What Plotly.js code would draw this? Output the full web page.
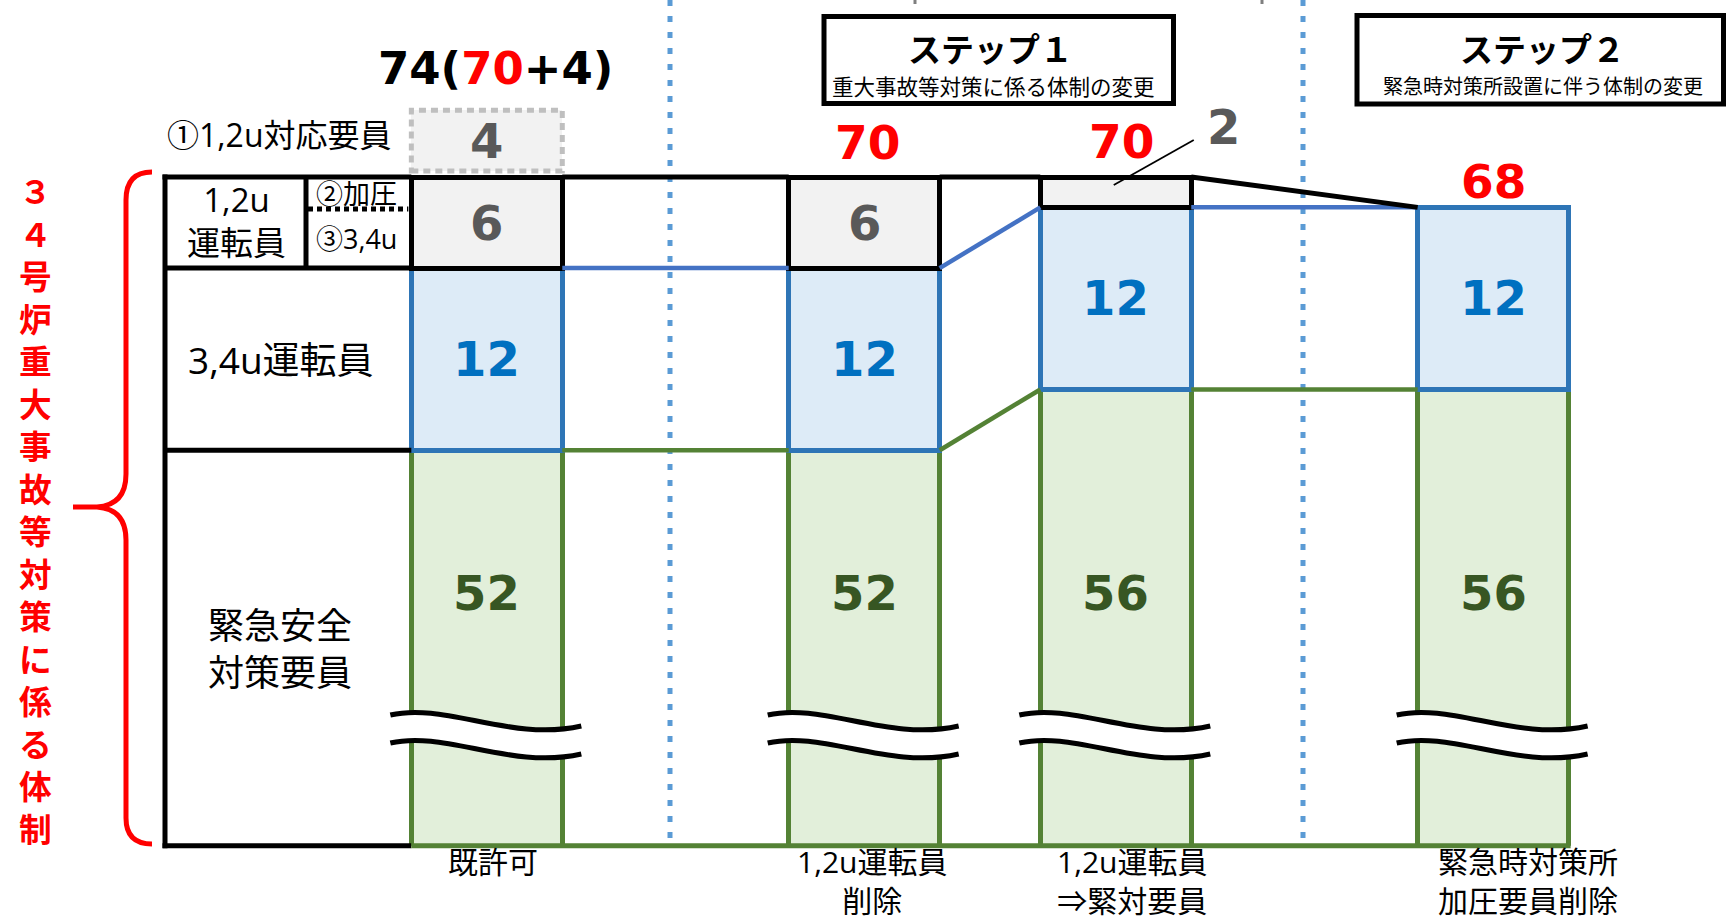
<!DOCTYPE html>
<html>
<head>
<meta charset="utf-8">
<script src="https://cdn.plot.ly/plotly-3.0.1.min.js"></script>
<style>
html, body { margin: 0; padding: 0; background: #ffffff; }
#chart { width: 1726px; height: 923px; }
</style>
</head>
<body>
<div id="chart"></div>
<script>
// ---------------- data ----------------
const categories = ['既許可', '1,2u運転員<br>削除', '1,2u運転員<br>⇒緊対要員', '緊急時対策所<br>加圧要員削除'];
const emergencyStaff  = [52, 52, 56, 56];        // 緊急安全対策要員
const unit34Operators = [12, 12, 12, 12];        // 3,4u運転員
const unit12Operators = [6, 6, 2, null];         // 1,2u運転員（②加圧 / ③3,4u）
const unit12Support   = [4, null, null, null];   // ①1,2u対応要員
const totals          = [70, 70, 70, 68];        // 合計（赤字）

const sideTitle = '３４号炉重大事故等対策に係る体制';
const step1Title = 'ステップ１', step1Sub = '重大事故等対策に係る体制の変更';
const step2Title = 'ステップ２', step2Sub = '緊急時対策所設置に伴う体制の変更';
const rowLabels = {
  support: '①1,2u対応要員',
  unit12: '1,2u<br>運転員',
  press: '②加圧', unit34small: '③3,4u',
  unit34: '3,4u運転員',
  emergency: '緊急安全<br>対策要員'
};

// ---------------- layout geometry ----------------
const W = 1726, H = 923;
const PLOT_BOTTOM = 845.7;
const xr = [-3.870, 9.851];
const yr = [25.95, 81.66];
const yDomain = [1 - PLOT_BOTTOM / H, 1];
const slots = [0, 3, 5, 8];
const BW = 1.2;

const px = v => (v - xr[0]) / (xr[1] - xr[0]) * W;
const py = v => (yr[1] - v) / (yr[1] - yr[0]) * PLOT_BOTTOM;
const fx = p => p / W;
const fy = p => 1 - p / H;
const pp = (x, y) => fx(x).toFixed(5) + ',' + fy(y).toFixed(5);

const SANS = "'Open Sans', 'Noto Sans CJK JP', sans-serif";
const CJK = "'Noto Sans CJK JP', sans-serif";
const NUM = "'DejaVu Sans', sans-serif";
const RED = '#FF0000';

// cumulative tops
const c1 = emergencyStaff.slice();
const c2 = c1.map((v, i) => v + unit34Operators[i]);
const c3 = c2.map((v, i) => v + (unit12Operators[i] || 0));
const supportBase = unit12Support.map((v, i) => v == null ? null : totals[i] + 0.4);

// ---------------- traces ----------------
const common = { type: 'bar', x: slots, width: BW, hoverinfo: 'skip' };
const traces = [
  Object.assign({}, common, { y: emergencyStaff,  marker: { color: '#E2EFDA', line: { color: '#548235', width: 4.5 } } }),
  Object.assign({}, common, { y: unit34Operators, marker: { color: '#DDEBF7', line: { color: '#2E75B6', width: 4.5 } } }),
  Object.assign({}, common, { y: unit12Operators, marker: { color: '#F2F2F2', line: { color: '#000000', width: 5 } } }),
  Object.assign({}, common, { y: unit12Support, base: supportBase, marker: { color: '#F2F2F2', line: { width: 0 } } })
];

// ---------------- shapes ----------------
const shapes = [];
const pline = (x0, y0, x1, y1, color, width, dash) => shapes.push({
  type: 'line', xref: 'paper', yref: 'paper', x0: fx(x0), y0: fy(y0), x1: fx(x1), y1: fy(y1),
  line: { color, width, dash: dash || 'solid' }, layer: 'above'
});
const ppath = (d, color, width, fill) => shapes.push({
  type: 'path', xref: 'paper', yref: 'paper', path: d,
  line: { color: color || 'rgba(0,0,0,0)', width: width || 0 },
  fillcolor: fill || 'rgba(0,0,0,0)', layer: 'above'
});

// phase separators (blue dotted)
[670, 1303].forEach(x => pline(x, 0, x, PLOT_BOTTOM - 2, '#5B9BD5', 5, '6px,10px'));

// small marks at top edge
[915, 1262].forEach(x => pline(x, 0, x, 4, '#7F7F7F', 3));

// step boxes
shapes.push({ type: 'rect', xref: 'paper', yref: 'paper', x0: fx(824), x1: fx(1173.5), y0: fy(16.5), y1: fy(103.5),
  line: { color: '#000', width: 5 }, fillcolor: '#fff', layer: 'above' });
shapes.push({ type: 'rect', xref: 'paper', yref: 'paper', x0: fx(1357), x1: fx(1723.5), y0: fy(15.5), y1: fy(104),
  line: { color: '#000', width: 5 }, fillcolor: '#fff', layer: 'above' });

// table
const bar1Left = px(slots[0] - BW / 2);
const TL = 165;
pline(TL, py(c3[0]) - 2.5, TL, PLOT_BOTTOM + 2.5, '#000', 5);           // left border
pline(162.5, PLOT_BOTTOM, bar1Left, PLOT_BOTTOM, '#000', 5);             // bottom
pline(TL, py(c2[0]), bar1Left, py(c2[0]), '#000', 5);                   // row divider
pline(TL, py(c1[0]), bar1Left, py(c1[0]), '#000', 5);                   // row divider
pline(306, py(c3[0]), 306, py(c2[0]), '#000', 5);                       // column divider
pline(308, 209, bar1Left - 3, 209, '#000', 5, '5px,4px');               // dotted split

// baseline (green) under the bars
pline(bar1Left, PLOT_BOTTOM, px(slots[3] + BW / 2) + 2, PLOT_BOTTOM, '#548235', 5);

// connectors between bars (data coordinates)
const dline = (x0, y0, x1, y1, color, width) => shapes.push({
  type: 'line', xref: 'x', yref: 'y', x0, y0, x1, y1, line: { color, width }, layer: 'above'
});
// table top + black top line
shapes.push({ type: 'line', xref: 'paper', yref: 'y', x0: fx(162.5), x1: fx(bar1Left), y0: c3[0], y1: c3[0],
  line: { color: '#000', width: 5 }, layer: 'above' });
for (let i = 0; i < slots.length - 1; i++) {
  const xa = slots[i] + BW / 2, xb = slots[i + 1] - BW / 2;
  dline(xa, c1[i], xb, c1[i + 1], '#548235', 4.5);
  dline(xa, c2[i], xb, c2[i + 1], '#4472C4', 4.5);
  dline(xa, c3[i], xb, c3[i + 1], '#000000', 5);
}

// dotted outline for ①1,2u対応要員
unit12Support.forEach((v, i) => {
  if (v == null) return;
  shapes.push({ type: 'rect', xref: 'x', yref: 'y', x0: slots[i] - BW / 2, x1: slots[i] + BW / 2,
    y0: supportBase[i], y1: supportBase[i] + v, line: { color: '#BFBFBF', width: 5, dash: '7px,5px' },
    fillcolor: 'rgba(0,0,0,0)', layer: 'above' });
});

// axis-break marks (double waves)
slots.forEach(s => {
  const L = px(s - BW / 2) - 21, R = px(s + BW / 2) + 19;
  const y0 = 715, gap = 28;
  const wave = (dy) => `M ${pp(L, y0 + dy)} C ${pp(L + 55, y0 - 13 + dy)} ${pp(L + 120, y0 + 27 + dy)} ${pp(R, y0 + 11 + dy)}`;
  const fill = `M ${pp(L, y0)} C ${pp(L + 55, y0 - 13)} ${pp(L + 120, y0 + 27)} ${pp(R, y0 + 11)} ` +
               `L ${pp(R, y0 + 11 + gap)} C ${pp(L + 120, y0 + 27 + gap)} ${pp(L + 55, y0 - 13 + gap)} ${pp(L, y0 + gap)} Z`;
  ppath(fill, null, 0, '#ffffff');
  ppath(wave(0), '#000', 5);
  ppath(wave(gap), '#000', 5);
});

// red brace
ppath(`M ${pp(152, 172)} Q ${pp(126, 172)} ${pp(126, 200)} L ${pp(126, 474)} Q ${pp(126, 505)} ${pp(97, 507)} L ${pp(73, 507)} ` +
      `M ${pp(97, 507)} Q ${pp(126, 509)} ${pp(126, 540)} L ${pp(126, 818)} Q ${pp(126, 844)} ${pp(152, 844)}`, RED, 5);

// leader line for the "2" call-out
const s2 = px(slots[2]);
pline(s2 + 78, 140, s2 - 2, 185, '#000', 1.8);

// ---------------- annotations ----------------
const annotations = [];
const pa = (text, x, y, size, color, family, extra) => annotations.push(Object.assign({
  xref: 'paper', yref: 'paper', x: fx(x), y: fy(y), text, showarrow: false,
  xanchor: 'center', yanchor: 'middle', font: { family: family || SANS, size, color: color || '#000' }
}, extra || {}));
const da = (text, x, y, size, color, xshift, yshift) => annotations.push({
  xref: 'x', yref: 'y', x, y, text, showarrow: false, xanchor: 'center', yanchor: 'middle',
  xshift: xshift || 0, yshift: yshift || 0, font: { family: NUM, size, color }
});

// side title (vertical, stacked glyphs in one text block; line pitch 1.3em = 42.5px)
const sideChars = Array.from(sideTitle);
annotations.push({
  xref: 'paper', yref: 'paper', x: fx(35), y: fy(190 + (sideChars.length - 1) * 42.5 / 2),
  text: sideChars.map(ch => '<b>' + ch + '</b>').join('<br>'), showarrow: false,
  xanchor: 'center', yanchor: 'middle',
  font: { family: CJK, size: 32.7, color: RED, weight: 'bold' }
});

// table labels
pa(rowLabels.support, 279.5, 135, 32);
pa(rowLabels.unit12, 236.5, 221.5, 33);
pa(rowLabels.press, 356.5, 193, 27);
pa(rowLabels.unit34small, 356.5, 238, 27);
pa(rowLabels.unit34, 281, 359.5, 37);
pa(rowLabels.emergency, 280, 648.5, 36);

// step boxes text
pa('<b>' + step1Title + '</b>', 990, 48, 33, '#000', CJK);
pa(step1Sub, 993, 85, 21.5, '#000', CJK);
pa('<b>' + step2Title + '</b>', 1542.5, 48, 33, '#000', CJK);
pa(step2Sub, 1543, 85, 20, '#000', CJK);

// category labels under the bars (one block each, line pitch 39px)
const catShift = [6, 8, 16, 35];
categories.forEach((c, i) => {
  const nLines = c.split('<br>').length;
  annotations.push({ xref: 'x', yref: 'paper', x: slots[i], y: fy(861 + (nLines - 1) * 19.5), text: c, showarrow: false,
    xanchor: 'center', yanchor: 'middle', xshift: catShift[i], font: { family: SANS, size: 30, color: '#000' } });
});

// values inside bars
const greenLabelY = 42.6;
slots.forEach((s, i) => {
  da('<b>' + emergencyStaff[i] + '</b>', s, greenLabelY, 48, '#375623');
  da('<b>' + unit34Operators[i] + '</b>', s, c1[i] + unit34Operators[i] / 2, 48, '#0070C0');
  const g = unit12Operators[i];
  if (g != null && g >= 4) da('<b>' + g + '</b>', s, c2[i] + g / 2, 48, '#595959');
  if (unit12Support[i] != null) da('<b>' + unit12Support[i] + '</b>', s, supportBase[i] + unit12Support[i] / 2, 48, '#595959');
});
// small gray segment call-out
pa('<b>' + unit12Operators[2] + '</b>', s2 + 108, 127.5, 48, '#595959', NUM);

// totals
const totalShift = [[8.7, 42], [3.3, 35], [6, 36], [0, 26]];
slots.forEach((s, i) => {
  if (unit12Support[i] != null) {
    const t = '<b>' + (totals[i] + unit12Support[i]) + '(<span style="color:' + RED + '">' + totals[i] + '</span>+' + unit12Support[i] + ')</b>';
    da(t, s, supportBase[i] + unit12Support[i], 45, '#000', totalShift[i][0], totalShift[i][1]);
  } else {
    da('<b>' + totals[i] + '</b>', s, c3[i], 47, RED, totalShift[i][0], totalShift[i][1]);
  }
});

const layout = {
  width: W, height: H,
  margin: { l: 0, r: 0, t: 0, b: 0, pad: 0 },
  paper_bgcolor: '#ffffff', plot_bgcolor: 'rgba(0,0,0,0)',
  barmode: 'stack', bargap: 0, showlegend: false,
  xaxis: { range: xr, domain: [0, 1], visible: false, fixedrange: true },
  yaxis: { range: yr, domain: yDomain, visible: false, fixedrange: true },
  shapes, annotations
};

Plotly.newPlot('chart', traces, layout, { staticPlot: true, displayModeBar: false });
</script>
</body>
</html>
